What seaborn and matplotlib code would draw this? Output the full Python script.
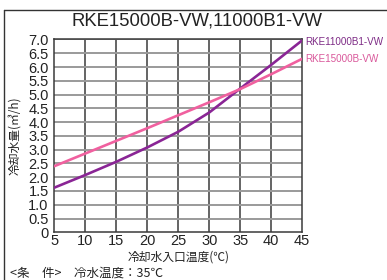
import pandas as pd
import numpy as np
import matplotlib.pyplot as plt
import seaborn as sns
from matplotlib.lines import Line2D

# water inlet temperature (C)
temps = [5, 10, 15, 20, 25, 30, 35, 40, 45]
# cooling water flow (m3/h)
flow_11000 = [1.62, 2.08, 2.56, 3.08, 3.65, 4.35, 5.22, 6.08, 6.97]
flow_15000 = [2.40, 2.86, 3.32, 3.78, 4.25, 4.72, 5.20, 5.74, 6.30]
series_names = ['RKE11000B1-VW', 'RKE15000B-VW']
series_colors = ['#8a2595', '#f0609f']
label_colors = ['#7d2a85', '#d9579a']
label_y = [6.92, 6.28]

x_ticks = list(range(5, 50, 5))
y_ticks = [i * 0.5 for i in range(15)]
y_ticklabels = ['0'] + [f'{v:.1f}' for v in y_ticks[1:]]

title = 'RKE15000B-VW,11000B1-VW'
x_label = '冷却水入口温度(℃)'
y_label = '冷却水量(㎥/h)'
note = '<条　件>　冷水温度：35℃'

df = pd.DataFrame({
    'temp': temps * 2,
    'flow': flow_11000 + flow_15000,
    'model': [series_names[0]] * len(temps) + [series_names[1]] * len(temps),
})

sns.set_style('white')
plt.rcParams['font.family'] = ['Liberation Sans', 'Noto Sans CJK JP', 'DejaVu Sans']
cjk = ['Noto Sans CJK JP', 'DejaVu Sans']

fig = plt.figure(figsize=(3.87, 2.80), dpi=100)
ax = fig.add_axes([0.1403, 0.1704, 0.6407, 0.6886])

for v in x_ticks[1:-1]:
    ax.axvline(v, color='#3a3a3a', lw=1.1, zorder=1)
for v in y_ticks[1:]:
    ax.axhline(v, color='#9a9a9a', lw=1.4, zorder=1)

sns.lineplot(data=df, x='temp', y='flow', hue='model', palette=series_colors,
             lw=1.9, legend=False, ax=ax, zorder=3)

ax.set_xlim(5, 45)
ax.set_ylim(0, 7.0)
ax.set_xticks(x_ticks)
ax.set_yticks(y_ticks)
ax.set_yticklabels(y_ticklabels)
ax.tick_params(length=0, labelsize=10.5, colors='#222222')
ax.tick_params(axis='x', pad=1.5)
ax.tick_params(axis='y', pad=4)
for s in ax.spines.values():
    s.set_color('#3a3a3a')
    s.set_linewidth(1.1)

ax.set_xlabel('')
ax.set_ylabel('')
fig.text(0.461, 0.082, x_label, family=cjk, fontsize=8.5, ha='center', va='center',
         color='#222222')
fig.text(0.037, 0.515, y_label, family=cjk, fontsize=8.5, rotation=90,
         ha='center', va='center', color='#222222')
fig.text(0.508, 0.925, title, fontsize=13.3, ha='center', va='center', color='#222222')
fig.text(0.026, 0.025, note, family=cjk, fontsize=9, ha='left', va='center',
         color='#222222')

# end-of-line labels
for name, yv, c in zip(series_names, label_y, label_colors):
    ax.text(45.5, yv, name, fontsize=7.1, color=c, ha='left', va='center',
            clip_on=False)

# outer frame lines
fig.add_artist(Line2D([0.011, 0.011], [0, 0.964], color='#333333', lw=1.0))
fig.add_artist(Line2D([0.011, 1.0], [0.964, 0.964], color='#333333', lw=1.0))

fig.savefig('out.png', dpi=100)
